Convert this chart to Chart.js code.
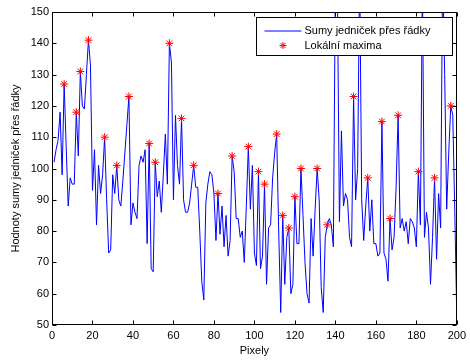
<!DOCTYPE html>
<html>
<head>
<meta charset="utf-8">
<script src="https://cdn.jsdelivr.net/npm/chart.js@4.4.1/dist/chart.umd.min.js"></script>
<style>
  html, body { margin: 0; padding: 0; background: #fff; }
  #wrap { width: 470px; height: 362px; }
</style>
</head>
<body>
<div id="wrap"><canvas id="c" width="470" height="362"></canvas></div>
<script>
/* sums of ones per row, pixel 1..200 */
const rowSums = [
  102, 106, 109, 118,  98, 127, 107,  88,  97,  95,
   95, 118, 104, 131, 120, 119, 130, 141, 133,  93,
  106,  82, 101,  92,  98, 110,  90,  73,  74,  98,
   92, 101,  90,  88,  96, 105, 114, 123,  82,  89,
   86,  84, 101, 104, 102, 106,  76, 108,  68,  67,
  102,  91,  96,  86,  98, 111,  95, 140, 134,  90,
  117, 101,  95, 116,  90,  86,  86,  89,  95, 101,
   94,  94,  80,  64,  58,  89,  95,  99,  98,  92,
   77,  92,  79,  88,  75,  85,  72,  77, 104,  99,
   84,  84,  78,  80,  70,  88, 107,  87, 101,  73,
   69,  99,  68,  72,  95,  63,  81,  82,  97, 105,
  111,  80,  54,  85,  63,  78,  81,  60,  63,  91,
   76,  76, 100,  85,  70,  60,  57,  84,  72,  87,
  100,  90,  62,  54,  78,  82,  84,  82,  75, 160,
  158,  83, 112,  88,  92,  90,  78,  75, 123,  90,
  100, 165,  90,  77,  88,  97,  80,  90,  76,  76,
   72,  73, 115,  73,  71,  64,  84,  74,  78,  94,
  117,  81,  84,  80,  83,  76,  84,  83,  81,  75,
   99,  82, 160,  78,  86,  81,  63,  78,  97,  71,
   92,  81, 165, 130,  87, 105, 120, 117,  86,  52
];

/* pixel positions of the marked local maxima */
const maxIdx = [6, 12, 14, 18, 26, 32, 38, 48, 51, 58, 64, 70, 82, 89, 97,
                102, 105, 111, 114, 117, 120, 123, 131, 136, 149, 156, 163,
                167, 171, 181, 189, 197];

const xTicks = [0, 20, 40, 60, 80, 100, 120, 140, 160, 180, 200];
const yTicks = [50, 60, 70, 80, 90, 100, 110, 120, 130, 140, 150];

const seriesLabel = 'Sumy jedniček přes řádky';
const maxLabel    = 'Lokální maxima';

const FONT = '"Liberation Sans", Arial, Helvetica, sans-serif';
Chart.defaults.font.family = FONT;
Chart.defaults.font.size = 11;
Chart.defaults.color = '#000';

const linePts = rowSums.map((v, i) => ({ x: i + 1, y: v }));
const maxPts  = maxIdx.map(p => ({ x: p, y: rowSums[p - 1] }));

/* star marker like matlab '*' */
function drawStar(ctx, x, y, r) {
  const d = r * Math.SQRT1_2;
  ctx.beginPath();
  ctx.moveTo(x - r, y); ctx.lineTo(x + r, y);
  ctx.moveTo(x, y - r); ctx.lineTo(x, y + r);
  ctx.moveTo(x - d, y - d); ctx.lineTo(x + d, y + d);
  ctx.moveTo(x - d, y + d); ctx.lineTo(x + d, y - d);
  ctx.stroke();
}

/* ── box round the axes + inward ticks on all four sides ── */
const framePlugin = {
  id: 'frame',
  afterDatasetsDraw(chart) {
    const { ctx, chartArea: a, scales: { x, y } } = chart;
    const L = Math.round(a.left) + 0.5, R = Math.round(a.right) - 0.5;
    const T = Math.round(a.top) + 0.5,  B = Math.round(a.bottom) - 0.5;
    const tl = 4;
    ctx.save();
    ctx.strokeStyle = '#000';
    ctx.lineWidth = 1;
    ctx.beginPath();
    xTicks.forEach(t => {
      const px = Math.round(x.getPixelForValue(t)) + 0.5;
      ctx.moveTo(px, B); ctx.lineTo(px, B - tl);
      ctx.moveTo(px, T); ctx.lineTo(px, T + tl);
    });
    yTicks.forEach(t => {
      const py = Math.round(y.getPixelForValue(t)) + 0.5;
      ctx.moveTo(L, py); ctx.lineTo(L + tl, py);
      ctx.moveTo(R, py); ctx.lineTo(R - tl, py);
    });
    ctx.stroke();
    ctx.strokeRect(L, T, R - L, B - T);
    ctx.restore();
  },
  afterDraw(chart) {
    // legend box, top right inside the axes
    const { ctx, chartArea: a } = chart;
    const w = 196, h = 38;
    const bx = Math.round(a.right) - 5 - w + 0.5;
    const by = Math.round(a.top) + 5 + 0.5;
    ctx.save();
    ctx.fillStyle = '#fff';
    ctx.fillRect(bx, by, w, h);
    ctx.strokeStyle = '#000';
    ctx.lineWidth = 1;
    ctx.strokeRect(bx, by, w, h);

    const r1 = by + 13, r2 = by + 28;
    ctx.strokeStyle = '#0000ff';
    ctx.beginPath();
    ctx.moveTo(bx + 8, r1 + 0.5); ctx.lineTo(bx + 45, r1 + 0.5);
    ctx.stroke();

    ctx.strokeStyle = '#ff0000';
    ctx.lineWidth = 1;
    drawStar(ctx, bx + 26.5, r2, 3.5);

    ctx.fillStyle = '#000';
    ctx.font = '11px ' + FONT;
    ctx.textBaseline = 'middle';
    ctx.textAlign = 'left';
    ctx.fillText(seriesLabel, bx + 48, r1);
    ctx.fillText(maxLabel, bx + 48, r2);
    ctx.restore();
  }
};

new Chart(document.getElementById('c'), {
  type: 'scatter',
  data: {
    datasets: [
      {
        label: seriesLabel,
        data: linePts,
        showLine: true,
        borderColor: '#0000ff',
        backgroundColor: '#0000ff',
        borderWidth: 1,
        pointRadius: 0,
        tension: 0,
        order: 2,
      },
      {
        label: maxLabel,
        data: maxPts,
        showLine: false,
        pointStyle: 'star',
        pointRadius: 4,
        borderColor: '#ff0000',
        backgroundColor: '#ff0000',
        borderWidth: 1,
        order: 1,
      },
    ],
  },
  options: {
    responsive: false,
    animation: false,
    devicePixelRatio: 1,
    layout: { padding: { left: 0, top: 12, right: 12, bottom: 0 } },
    plugins: {
      legend: { display: false },
      tooltip: { enabled: false },
    },
    scales: {
      x: {
        type: 'linear',
        min: 0, max: 200,
        afterBuildTicks: s => { s.ticks = xTicks.map(v => ({ value: v })); },
        ticks: { padding: 4, maxRotation: 0, autoSkip: false },
        grid: { display: false, drawTicks: false },
        border: { display: false },
        title: { display: true, text: 'Pixely', padding: { top: 0, bottom: 4 } },
        afterFit: s => { s.height = 37; },
      },
      y: {
        type: 'linear',
        min: 50, max: 150,
        afterBuildTicks: s => { s.ticks = yTicks.map(v => ({ value: v })); },
        ticks: { padding: 3, autoSkip: false },
        grid: { display: false, drawTicks: false },
        border: { display: false },
        title: { display: true, text: 'Hodnoty sumy jedniček přes řádky', padding: { top: 9, bottom: 0 } },
        afterFit: s => { s.width = 52; },
      },
    },
  },
  plugins: [framePlugin],
});
</script>
</body>
</html>
